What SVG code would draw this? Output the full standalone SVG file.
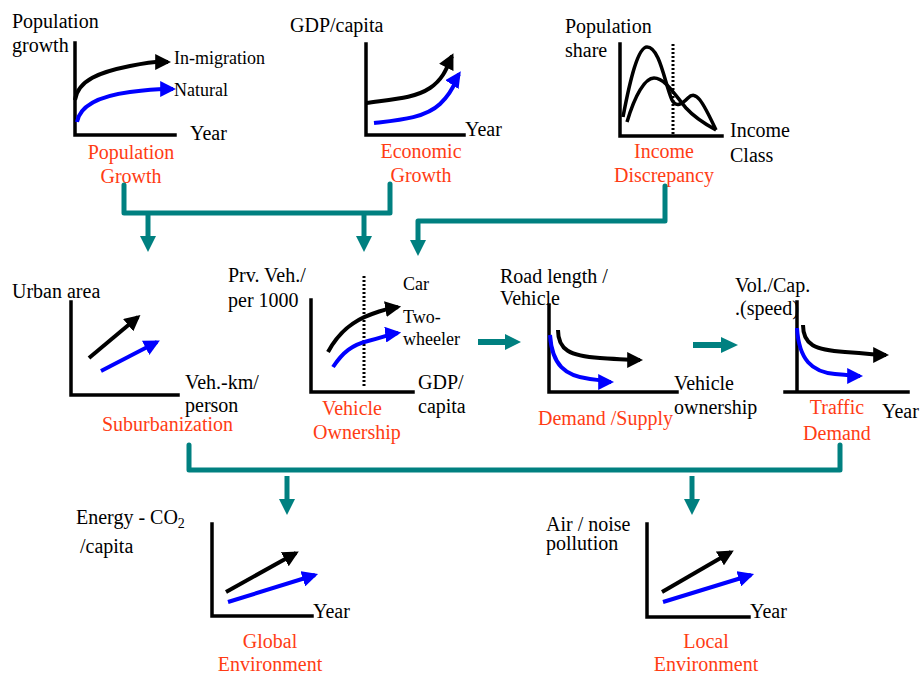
<svg xmlns="http://www.w3.org/2000/svg" width="922" height="675" viewBox="0 0 922 675">
  <style>
    text { font-family: "Liberation Serif", "Times New Roman", serif; font-size: 20px; fill: #000; }
    .sm { font-size: 18px; }
    .red { fill: #ff3c14; }
    .mid { text-anchor: middle; }
    .axis { fill: none; stroke: #000; stroke-width: 3.5; stroke-linecap: square; }
    .kc { fill: none; stroke: #000; stroke-width: 4; marker-end: url(#ak); }
    .bc { fill: none; stroke: #0000ff; stroke-width: 4; marker-end: url(#ab); }
    .plain { fill: none; stroke: #000; stroke-width: 3.5; }
    .dot { fill: none; stroke: #000; stroke-width: 3; stroke-dasharray: 2 2; }
    .tl { fill: none; stroke: #008080; stroke-width: 5; stroke-linecap: round; stroke-linejoin: round; }
    .th { fill: #008080; }
  </style>
  <defs>
    <marker id="ak" viewBox="0 0 10 10" refX="8" refY="5" markerWidth="4" markerHeight="4" orient="auto" markerUnits="strokeWidth">
      <path d="M0,0 L10,5 L0,10 Z" fill="#000"/>
    </marker>
    <marker id="ab" viewBox="0 0 10 10" refX="8" refY="5" markerWidth="4" markerHeight="4" orient="auto" markerUnits="strokeWidth">
      <path d="M0,0 L10,5 L0,10 Z" fill="#0000ff"/>
    </marker>
  </defs>
  <rect width="922" height="675" fill="#fff"/>

  <!-- Population growth -->
  <g id="population-growth">
    <text x="12" y="28">Population</text>
    <text x="12" y="52">growth</text>
    <path class="axis" d="M75,43 V135 H175"/>
    <path class="kc" d="M75,100 C78,80 100,72 130,66 S160,62 168,62"/>
    <path class="bc" d="M77,122 C80,105 100,96 130,92 S160,89 173,89"/>
    <text class="sm" x="174" y="64">In-migration</text>
    <text class="sm" x="174" y="96">Natural</text>
    <text x="190" y="140">Year</text>
    <text class="red mid" x="131" y="159">Population</text>
    <text class="red mid" x="131" y="183">Growth</text>
  </g>

  <!-- Economic growth -->
  <g id="economic-growth">
    <text x="290" y="32">GDP/capita</text>
    <path class="axis" d="M366,44 V135 H464"/>
    <path class="kc" d="M366,103 C395,99 415,98 430,88 S448,64 452,56"/>
    <path class="bc" d="M374,123 C400,120 425,118 440,104 S455,80 459,74"/>
    <text x="465" y="136">Year</text>
    <text class="red mid" x="421" y="158">Economic</text>
    <text class="red mid" x="421" y="182">Growth</text>
  </g>

  <!-- Income discrepancy -->
  <g id="income-discrepancy">
    <text x="565" y="33">Population</text>
    <text x="565" y="57">share</text>
    <path class="axis" d="M620,44 V136 H722"/>
    <line class="dot" x1="673" y1="44" x2="673" y2="136"/>
    <path class="plain" d="M623,117 C630,80 638,47 647,47 C660,47 665,85 672,100 C676,108 682,104 688,98 C696,90 702,100 716,130"/>
    <path class="plain" d="M627,122 C635,95 645,78 654,78 C665,78 675,95 686,108 C695,118 705,124 716,130"/>
    <text x="730" y="137">Income</text>
    <text x="730" y="162">Class</text>
    <text class="red mid" x="664" y="158">Income</text>
    <text class="red mid" x="664" y="182">Discrepancy</text>
  </g>

  <!-- Suburbanization -->
  <g id="suburbanization">
    <text x="12" y="298">Urban area</text>
    <path class="axis" d="M71,302 V395 H178"/>
    <line class="kc" x1="89" y1="358" x2="138" y2="317"/>
    <line class="bc" x1="101" y1="371" x2="157" y2="342"/>
    <text x="185" y="389">Veh.-km/</text>
    <text x="185" y="412">person</text>
    <text class="red" x="102" y="431">Suburbanization</text>
  </g>

  <!-- Vehicle ownership -->
  <g id="vehicle-ownership">
    <text x="228" y="282">Prv. Veh./</text>
    <text x="228" y="307">per 1000</text>
    <path class="axis" d="M311,300 V392 H413"/>
    <line class="dot" x1="364" y1="276" x2="364" y2="388"/>
    <path class="kc" d="M328,352 C340,330 355,320 372,314 S392,308 398,307"/>
    <path class="bc" d="M333,367 C343,352 352,345 368,341 S390,334 398,333"/>
    <text class="sm" x="403" y="290">Car</text>
    <text class="sm" x="403" y="323">Two-</text>
    <text class="sm" x="403" y="345">wheeler</text>
    <text x="418" y="389">GDP/</text>
    <text x="418" y="413">capita</text>
    <text class="red mid" x="352" y="415">Vehicle</text>
    <text class="red mid" x="357" y="439">Ownership</text>
  </g>

  <!-- Demand / supply -->
  <g id="demand-supply">
    <text x="500" y="283">Road  length /</text>
    <text x="500" y="305">Vehicle</text>
    <path class="axis" d="M549,305 V392 H677"/>
    <path class="kc" d="M558,330 C558,350 570,356 600,358 S630,360 640,360"/>
    <path class="bc" d="M550,335 C552,365 565,376 590,379 S605,382 611,382"/>
    <text x="674" y="390">Vehicle</text>
    <text x="674" y="414">ownership</text>
    <text class="red" x="538" y="425">Demand /Supply</text>
  </g>

  <!-- Traffic demand -->
  <g id="traffic-demand">
    <text x="735" y="292">Vol./Cap.</text>
    <text x="735" y="315">.(speed)</text>
    <path class="axis" d="M797,302 V392 M785,392 H908"/>
    <path class="kc" d="M803,325 C803,345 815,350 845,352 S875,355 886,355"/>
    <path class="bc" d="M797,328 C799,360 812,372 835,374 S852,376 860,376"/>
    <text x="882" y="418">Year</text>
    <text class="red mid" x="837" y="414">Traffic</text>
    <text class="red mid" x="837" y="440">Demand</text>
  </g>

  <!-- Global environment -->
  <g id="global-environment">
    <text x="76" y="524">Energy - CO<tspan font-size="14" dy="4">2</tspan></text>
    <text x="80" y="553">/capita</text>
    <path class="axis" d="M212,524 V616 H312"/>
    <line class="kc" x1="226" y1="592" x2="296" y2="553"/>
    <line class="bc" x1="228" y1="602" x2="315" y2="575"/>
    <text x="313" y="618">Year</text>
    <text class="red mid" x="270" y="648">Global</text>
    <text class="red mid" x="270" y="671">Environment</text>
  </g>

  <!-- Local environment -->
  <g id="local-environment">
    <text x="546" y="531">Air / noise</text>
    <text x="546" y="550">pollution</text>
    <path class="axis" d="M647,524 V617 H749"/>
    <line class="kc" x1="662" y1="592" x2="731" y2="552"/>
    <line class="bc" x1="663" y1="602" x2="751" y2="575"/>
    <text x="750" y="618">Year</text>
    <text class="red mid" x="706" y="648">Local</text>
    <text class="red mid" x="706" y="671">Environment</text>
  </g>

  <!-- Connectors -->
  <g id="connectors">
    <path class="tl" d="M124,185 V213 H390 V184"/>
    <line class="tl" x1="148" y1="213" x2="148" y2="236" style="stroke-linecap:butt"/>
    <polygon class="th" points="140,236 156,236 148,252"/>
    <line class="tl" x1="364" y1="213" x2="364" y2="236" style="stroke-linecap:butt"/>
    <polygon class="th" points="356,236 372,236 364,252"/>
    <path class="tl" d="M665,186 V221 H418 V240"/>
    <polygon class="th" points="410,240 426,240 418,256"/>

    <line class="tl" x1="478" y1="342" x2="506" y2="342" style="stroke-width:6;stroke-linecap:butt"/>
    <polygon class="th" points="505,334 521,342 505,350"/>
    <line class="tl" x1="693" y1="345" x2="722" y2="345" style="stroke-width:6;stroke-linecap:butt"/>
    <polygon class="th" points="721,337 738,345 721,353"/>

    <path class="tl" d="M189,445 V470 H840 V445"/>
    <line class="tl" x1="287" y1="476" x2="287" y2="500" style="stroke-linecap:butt"/>
    <polygon class="th" points="279,499 295,499 287,515"/>
    <line class="tl" x1="692" y1="476" x2="692" y2="500" style="stroke-linecap:butt"/>
    <polygon class="th" points="684,499 700,499 692,515"/>
  </g>
</svg>
